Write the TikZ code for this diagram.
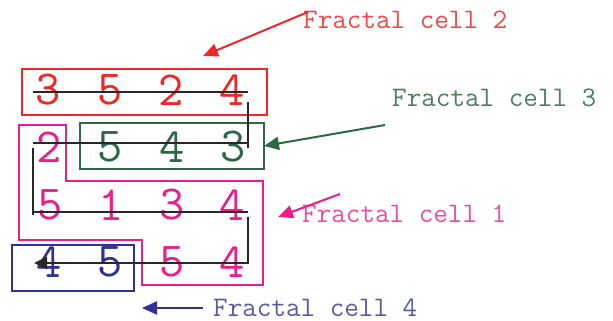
\documentclass[tikz,border=0pt]{standalone}
\usetikzlibrary{arrows.meta}
\definecolor{cred}{RGB}{242,38,38}
\definecolor{cgreen}{RGB}{45,105,70}
\definecolor{cpink}{RGB}{236,30,140}
\definecolor{cblue}{RGB}{48,48,150}
\definecolor{cpath}{RGB}{40,40,40}
\begin{document}
\begin{tikzpicture}[x=1pt,y=-1pt,
  digit/.style={font=\ttfamily\fontsize{49}{49}\selectfont, inner sep=0pt},
  lab/.style={font=\ttfamily\fontsize{28.3}{29}\selectfont, anchor=west, inner sep=0pt},
  cellbox/.style={line width=1.5pt},
  pathline/.style={draw=cpath, line width=2.2pt},
  pointer/.style={line width=2pt, -{Triangle[length=15pt,width=13pt]}}]
\path[use as bounding box, fill=white] (0,0) rectangle (613,321);

% boxes
\draw[cellbox, draw=cred] (22,69) rectangle (267,115);
\draw[cellbox, draw=cgreen] (80,123) rectangle (264,169);
\draw[cellbox, draw=cblue] (12,245) rectangle (134,291);
\draw[cellbox, draw=cpink] (19,125) -- (66,125) -- (66,181) -- (263,181) -- (263,285)
  -- (142,285) -- (142,240) -- (19,240) -- cycle;

% digits
\node[digit, text=cred] (r1) at (48,90) {3};
\node[digit, text=cred] (r2) at (110,90) {5};
\node[digit, text=cred] (r3) at (171,90) {2};
\node[digit, text=cred] (r4) at (232,90) {4};
\node[digit, text=cpink] (p1) at (49,147) {2};
\node[digit, text=cgreen] (g1) at (110,147) {5};
\node[digit, text=cgreen] (g2) at (172,147) {4};
\node[digit, text=cgreen] (g3) at (233,147) {3};
\node[digit, text=cpink] (p2) at (50,205) {5};
\node[digit, text=cpink] (p3) at (111,205) {1};
\node[digit, text=cpink] (p4) at (172,205) {3};
\node[digit, text=cpink] (p5) at (232,205) {4};
\node[digit, text=cblue] (b1) at (49,262) {4};
\node[digit, text=cblue] (b2) at (110,262) {5};
\node[digit, text=cpink] (p6) at (172,262) {5};
\node[digit, text=cpink] (p7) at (232,262) {4};

% serpentine path
\coordinate (a1) at (33,92);
\coordinate (a2) at (248,92);
\coordinate (a3) at (248,102);
\coordinate (a4) at (248,148);
\coordinate (a5) at (33,143);
\coordinate (a6) at (248,143);
\coordinate (a7) at (33,148);
\coordinate (a8) at (33,215);
\coordinate (a9) at (33,212);
\coordinate (a10) at (248,212);
\coordinate (a11) at (248,217);
\coordinate (a12) at (248,263);
\coordinate (a13) at (34,263);
\draw[pathline] (a1) -- (a2);
\draw[pathline] (a3) -- (a4);
\draw[pathline] (a5) -- (a6);
\draw[pathline] (a7) -- (a8);
\draw[pathline] (a9) -- (a10);
\draw[pathline, -{Triangle[length=13pt,width=12pt]}] (a11) -- (a12) -- (a13);

% labels
\node[lab, text=cred!85] (l2) at (303,19.5) {Fractal cell 2};
\node[lab, text=cgreen!85] (l3) at (392,97.5) {Fractal cell 3};
\node[lab, text=cpink!80] (l1) at (302,213.5) {Fractal cell 1};
\node[lab, text=cblue!80] (l4) at (213,307.5) {Fractal cell 4};

% pointers
\coordinate (s2) at (308,12);   \coordinate (t2) at (203,56);
\coordinate (s3) at (385,125);  \coordinate (t3) at (264,146);
\coordinate (s1) at (340,194);  \coordinate (t1) at (278,217);
\coordinate (s4) at (203,308);  \coordinate (t4) at (142,308);
\draw[pointer, draw=cred, fill=cred] (s2) -- (t2);
\draw[pointer, draw=cgreen, fill=cgreen] (s3) -- (t3);
\draw[pointer, draw=cpink, fill=cpink] (s1) -- (t1);
\draw[pointer, draw=cblue, fill=cblue] (s4) -- (t4);
\end{tikzpicture}
\end{document}
